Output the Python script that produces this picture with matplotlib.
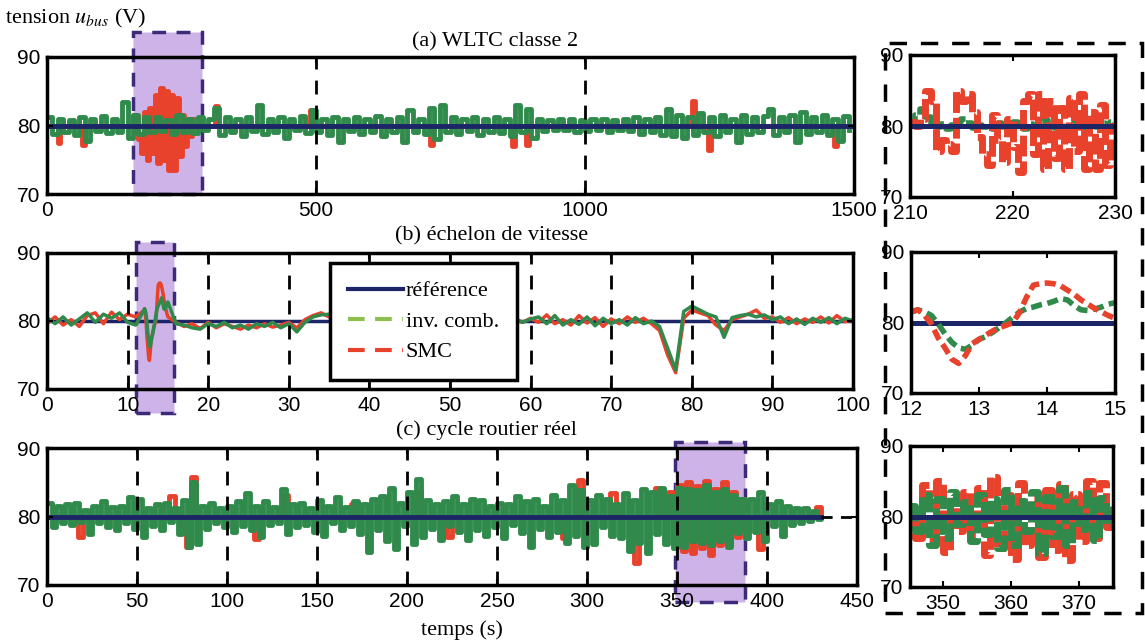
import numpy as np
import matplotlib.pyplot as plt
from matplotlib.lines import Line2D
from matplotlib.patches import Rectangle

plt.rcParams['font.family'] = ['Liberation Sans', 'DejaVu Sans']
plt.rcParams['mathtext.fontset'] = 'stix'
SERIF = ['Liberation Serif', 'DejaVu Serif']

NAVY = '#1c2566'
GREEN = '#2f8a4c'
GREEN_LEG = '#8dbf4c'
RED = '#e8412c'
LAVENDER = '#cdb3e8'
PURPLE = '#3d2b7a'

V_REF = 80

# ---------------- (a) WLTC classe 2, one value every 10 s ----------------
t_a = np.arange(0, 1500, 10)
green_a = [
    81.2, 78.8, 81.0, 79.0, 80.8, 78.6, 81.2, 77.8, 81.0, 79.2,
    81.4, 78.9, 81.0, 79.0, 83.5, 78.2, 81.5, 78.8, 81.2, 79.0,
    81.3, 79.2, 80.8, 78.8, 81.5, 79.0, 81.0, 78.9, 81.2, 79.4,
    81.0, 82.6, 78.6, 81.2, 79.0, 81.0, 78.4, 81.3, 79.2, 83.0,
    78.8, 81.0, 79.1, 81.2, 78.2, 81.0, 79.3, 81.4, 78.9, 82.2,
    79.0, 81.0, 78.6, 81.2, 77.6, 81.0, 79.2, 81.3, 78.8, 81.0,
    79.0, 81.4, 78.5, 81.0, 79.1, 81.2, 77.6, 82.2, 79.0, 81.0,
    78.7, 82.6, 78.0, 83.0, 79.0, 81.2, 78.8, 81.0, 79.2, 81.3,
    78.6, 81.0, 79.0, 81.2, 78.9, 81.0, 78.4, 83.0, 79.0, 82.4,
    78.2, 81.0, 79.2, 80.8, 79.4, 80.9, 79.3, 81.0, 79.0, 80.8,
    79.2, 80.9, 79.3, 81.0, 79.1, 80.8, 79.4, 81.0, 79.2, 81.2,
    78.8, 81.0, 79.0, 81.3, 78.6, 82.4, 78.4, 81.5, 78.2, 81.2,
    78.6, 81.8, 79.0, 81.2, 78.4, 81.6, 79.1, 81.0, 77.6, 81.5,
    78.8, 81.2, 79.0, 81.4, 82.4, 78.6, 81.2, 79.0, 81.5, 77.6,
    82.0, 78.8, 81.2, 79.0, 81.5, 78.6, 81.0, 77.8, 81.4, 79.4,
]
red_a_t = [0, 20, 25, 65, 70,
           160, 165, 170, 175, 180, 185, 190, 195, 200, 205, 210, 215, 220,
           225, 230, 235, 240, 245, 250, 255, 260, 265, 270, 275, 280, 285,
           312, 318, 488, 494, 712, 718, 864, 870, 890, 896,
           1198, 1204, 1228, 1234, 1462, 1468, 1495]
red_a = [80, 77.4, 80, 77.2, 80,
         81.5, 79.0, 78.0, 76.0, 82.0, 75.0, 82.5, 76.0, 84.5, 74.5, 85.5, 75.0, 85.0,
         73.5, 84.5, 73.5, 84.0, 75.5, 81.5, 77.0, 81.0, 78.5, 81.0, 79.5, 80.5, 80,
         82.8, 80, 82.2, 80, 77.2, 80, 77.0, 80, 77.2, 80,
         83.6, 80, 76.4, 80, 77.0, 80, 80]
ref_a_t = [0, 1495]

# zoom of (a): 210 - 230 s, every 0.5 s
t_az = np.arange(210, 230.01, 0.5)
green_az = [80.4, 81.6, 82.4, 81.2, 80.2, 79.8, 80.3, 79.6, 80.2, 80.6,
            81.0, 80.4, 79.7, 80.2, 79.8, 80.3, 79.6, 80.4, 79.9, 80.2,
            80.6, 80.0, 79.6, 80.3, 79.8, 80.4, 80.9, 80.2, 79.7, 80.3,
            79.6, 80.2, 80.8, 80.1, 79.7, 80.3, 79.8, 80.4, 80.0, 80.6, 80.2]
red_az = [80.5, 80.0, 81.0, 85.0, 83.5, 76.5, 78.0, 77.5, 76.5, 85.0,
          83.5, 84.5, 82.0, 78.5, 76.0, 74.5, 81.5, 78.0, 75.0, 81.0,
          77.0, 73.5, 83.5, 84.5, 76.0, 84.5, 74.0, 83.5, 75.5, 82.5,
          74.0, 84.0, 76.5, 84.5, 74.0, 82.0, 74.0, 83.0, 74.5, 80.0, 80.0]

# ---------------- (b) échelon de vitesse, one value every 1 s ----------------
t_b = np.arange(0, 101)
green_b = [
    80.5, 79.6, 80.6, 79.4, 80.3, 81.2, 79.8, 81.0, 80.4, 81.2,
    79.8, 79.4, 80.6, 78.0, 82.0, 81.5, 79.6, 79.4, 79.0, 78.8,
    79.6, 79.2, 79.8, 79.0, 79.4, 78.8, 79.6, 79.2, 79.8, 79.0,
    79.6, 78.4, 79.8, 80.6, 80.9, 81.0, 80.4, 79.6, 80.5, 79.7,
    80.3, 79.8, 80.2, 79.6, 80.4, 79.8, 80.5, 79.7, 80.2, 79.9,
    80.4, 79.6, 80.3, 79.8, 80.5, 79.7, 80.2, 79.6, 80.4, 79.8,
    80.3, 80.6, 79.6, 80.8, 79.4, 80.2, 79.5, 80.6, 79.3, 80.4,
    79.6, 80.2, 79.4, 80.5, 79.6, 80.0, 79.2, 76.0, 72.8, 81.4,
    82.2, 81.6, 81.0, 80.6, 77.6, 80.5, 80.8, 81.0, 80.6, 80.9,
    80.2, 80.6, 79.6, 80.3, 79.5, 80.4, 79.8, 80.5, 79.6, 80.4,
    80.0,
]
red_b = [
    79.6, 80.6, 79.4, 80.2, 79.2, 80.8, 81.2, 79.6, 81.3, 80.2,
    81.0, 80.6, 81.5, 74.2, 85.5, 80.6, 79.8, 79.2, 79.6, 78.9,
    79.8, 79.0, 79.6, 79.2, 78.8, 79.4, 79.0, 79.6, 79.1, 79.4,
    79.8, 79.0, 80.2, 80.8, 81.2, 80.6, 80.2, 79.8, 80.4, 79.6,
    80.2, 79.8, 80.4, 79.7, 80.3, 79.6, 80.2, 79.8, 80.5, 79.7,
    80.3, 79.9, 80.2, 79.6, 80.4, 79.8, 80.3, 79.7, 80.2, 79.8,
    80.4, 79.8, 80.9, 79.6, 80.2, 79.4, 80.8, 79.7, 80.5, 79.2,
    80.3, 79.6, 80.6, 79.8, 80.4, 79.6, 78.6, 75.0, 72.4, 80.4,
    81.6, 81.2, 80.8, 79.4, 78.6, 80.2, 80.6, 81.0, 81.6, 80.4,
    80.6, 79.8, 80.5, 79.6, 80.3, 79.8, 80.6, 79.7, 80.8, 79.9,
    80.2,
]
# zoom of (b): 12 - 15 s, every 0.1 s
t_bz = np.linspace(12, 15, 31)
green_bz = [81.5, 81.8, 81.5, 81.0, 79.8, 78.4, 77.2, 76.4, 76.2, 76.8,
            77.6, 78.0, 78.6, 79.3, 80.0, 80.8, 81.5, 82.0, 82.2, 82.5,
            82.7, 83.0, 83.4, 83.2, 82.4, 81.8, 81.7, 81.9, 82.2, 82.6, 82.8]
red_bz = [81.5, 81.8, 81.0, 79.8, 77.8, 76.4, 74.8, 74.2, 75.3, 77.0,
          77.6, 78.2, 78.8, 79.3, 79.6, 80.0, 81.5, 83.6, 85.3, 85.5,
          85.6, 85.5, 85.2, 84.6, 84.0, 83.2, 82.6, 82.0, 81.5, 81.0, 80.6]

# ---------------- (c) cycle routier réel, one value every 2.5 s ----------------
t_c = np.arange(0, 430.01, 2.5)
green_c = [
    82.0, 78.5, 81.5, 79.0, 81.8, 78.8, 82.0, 79.2, 81.0, 77.5, 81.6, 79.0,
    82.2, 78.4, 81.4, 78.0, 81.5, 79.0, 82.8, 78.2, 82.6, 77.0, 81.2, 78.6,
    81.8, 78.0, 82.0, 79.2, 81.2, 77.5, 82.4, 75.6, 85.0, 76.0, 81.5, 78.2,
    82.0, 79.0, 81.2, 78.4, 81.6, 77.8, 82.2, 78.6, 83.5, 78.0, 81.6, 77.0,
    82.2, 78.8, 81.4, 79.0, 84.0, 77.5, 81.8, 78.4, 82.0, 78.8, 81.2, 77.8,
    82.4, 77.2, 81.6, 79.0, 82.8, 78.0, 81.4, 78.6, 82.2, 77.4, 81.8, 74.8,
    82.6, 78.0, 83.0, 76.4, 84.2, 75.2, 82.0, 78.6, 83.6, 76.0, 85.5, 77.0,
    82.4, 78.2, 81.8, 76.6, 82.2, 78.6, 83.0, 77.8, 81.8, 76.6, 82.6, 78.0,
    82.4, 77.2, 81.6, 78.4, 82.0, 76.8, 81.8, 78.8, 83.0, 77.6, 82.2, 75.6,
    82.6, 78.2, 81.6, 77.0, 83.2, 77.8, 82.4, 76.2, 84.6, 77.2, 83.8, 75.6,
    82.4, 76.0, 83.2, 78.4, 82.6, 77.2, 81.8, 76.8, 83.4, 75.0, 82.4, 76.2,
    84.0, 74.6, 83.6, 77.4, 84.2, 76.0, 83.0, 75.4, 84.2, 75.6, 84.0, 76.4,
    83.8, 76.2, 84.6, 75.8, 83.6, 76.4, 84.0, 75.6, 83.2, 77.6, 82.6, 76.8,
    82.6, 77.8, 83.6, 76.4, 81.8, 78.6, 82.2, 77.2, 81.6, 78.8, 81.2, 79.0,
    81.2, 79.4, 80.8, 79.6, 80.0,
]
red_c_t = [0, 17, 20, 68, 71, 77, 80, 83, 115, 118, 131, 134, 169, 172,
           205, 208, 222, 225, 286, 289, 295, 298, 313, 316, 326, 329, 338, 341,
           345, 347.5, 350, 352.5, 355, 357.5, 360, 362.5, 365, 367.5, 370,
           372.5, 375, 377.5, 380, 382.5, 385, 387.5, 390, 395, 398, 427, 430]
red_c = [80, 77.0, 80, 83.0, 80, 75.5, 85.7, 80, 76.7, 80, 83.2, 80, 81.8, 80,
         83.6, 80, 77.0, 80, 76.8, 80, 85.4, 80, 83.4, 80, 73.2, 80, 84.2, 80,
         83.6, 76.0, 84.6, 75.0, 85.0, 74.6, 84.4, 75.4, 85.2, 74.4, 84.0,
         75.8, 85.0, 76.0, 83.6, 77.0, 82.6, 78.0, 80, 75.2, 80, 81.4, 80]
ref_c_t = [0, 430]
ref_c_tail = [430, 450]

# zoom of (c): 345 - 375 s, every 1 s
t_cz = np.arange(345, 376)
green_cz = [81.5, 78.0, 83.0, 76.0, 82.5, 77.0, 83.5, 79.0, 82.0, 76.5,
            83.0, 77.5, 82.5, 75.5, 83.8, 76.0, 82.2, 78.0, 83.5, 74.8,
            82.8, 77.2, 84.0, 76.0, 82.0, 78.2, 83.4, 76.6, 82.6, 79.0, 81.8]
red_cz = [80.5, 77.0, 84.5, 76.5, 85.0, 75.0, 81.5, 78.0, 83.5, 77.5,
          84.0, 74.5, 85.6, 75.5, 83.0, 74.0, 84.8, 76.0, 82.5, 74.2,
          83.8, 75.2, 84.6, 73.8, 83.2, 76.5, 85.0, 77.0, 84.8, 78.5, 81.0]

W, H = 1145, 644
fig = plt.figure(figsize=(W / 100, H / 100), dpi=100)


def px_axes(x0, y0, x1, y1):
    return fig.add_axes([x0 / W, 1 - y1 / H, (x1 - x0) / W, (y1 - y0) / H])


def style(ax, xlim, xticks, grid=True):
    ax.set_xlim(xlim)
    ax.set_ylim(70, 90)
    ax.set_yticks([70, 80, 90])
    ax.set_xticks(xticks)
    ax.tick_params(direction='in', length=4, width=1.5, labelsize=15,
                   top=True, right=True, pad=5)
    for s in ax.spines.values():
        s.set_linewidth(2.5)
    if grid:
        ax.grid(True, axis='x', color='k', ls=(0, (5, 4)), lw=2)
        ax.set_axisbelow(False)


def highlight(ax, x0, x1, y0, y1):
    ax.add_patch(Rectangle((x0, y0), x1 - x0, y1 - y0, facecolor=LAVENDER,
                           edgecolor=PURPLE, ls=(0, (4, 3)), lw=2.5,
                           clip_on=False, zorder=0.8))


# ---- (a) ----
ax_a = px_axes(47, 57, 854, 194)
highlight(ax_a, 160, 288, 70, 93.6)
ax_a.plot(red_a_t, red_a, color=RED, lw=3.5, drawstyle='steps-post', zorder=2)
ax_a.plot(t_a, green_a, color=GREEN, lw=3.5, drawstyle='steps-post', zorder=2.1)
ax_a.plot(ref_a_t, [V_REF] * 2, color=NAVY, lw=3.5, zorder=2.2)
style(ax_a, (0, 1500), [0, 500, 1000, 1500])

ax_az = px_axes(910, 55, 1115, 197)
ax_az.plot(t_az, green_az, color=GREEN, lw=4, ls=(0, (2.5, 0.8)), drawstyle='steps-post')
ax_az.plot(t_az, red_az, color=RED, lw=5, ls=(0, (3, 0.7)), drawstyle='steps-post')
ax_az.plot([210, 230], [V_REF] * 2, color=NAVY, lw=3.6)
style(ax_az, (210, 230), [210, 220, 230], grid=False)

# ---- (b) ----
keep = (t_b < 12) | (t_b > 15)
tb_all = np.concatenate([t_b[keep], t_bz])
order = np.argsort(tb_all)
gb_all = np.concatenate([np.array(green_b)[keep], green_bz])[order]
rb_all = np.concatenate([np.array(red_b)[keep], red_bz])[order]
tb_all = tb_all[order]

ax_b = px_axes(47, 253, 853, 389)
highlight(ax_b, 11.0, 15.75, 66.5, 91.6)
ax_b.plot([0, 100], [V_REF] * 2, color=NAVY, lw=2.5, zorder=1.9)
ax_b.plot(tb_all, rb_all, color=RED, lw=2.5, zorder=2)
ax_b.plot(tb_all, gb_all, color=GREEN, lw=2.5, zorder=2.1)
style(ax_b, (0, 100), np.arange(0, 101, 10))

handles = [Line2D([], [], color=NAVY, lw=3),
           Line2D([], [], color=GREEN_LEG, lw=3, ls=(0, (4, 2.5))),
           Line2D([], [], color=RED, lw=3, ls=(0, (4, 2.5)))]
leg = ax_b.legend(handles, ['référence', 'inv. comb.', 'SMC'], loc='upper left',
                  bbox_to_anchor=(330 / W, 1 - 263 / H), bbox_transform=fig.transFigure,
                  prop={'family': SERIF, 'size': 16}, frameon=True, fancybox=False,
                  edgecolor='k', framealpha=1, handlelength=2.5, handletextpad=0.1,
                  borderpad=0.8, labelspacing=0.45, borderaxespad=0)
leg.get_frame().set_linewidth(2.5)
leg.set_zorder(5)

ax_bz = px_axes(911, 252, 1115, 393)
ax_bz.plot([12, 15], [V_REF] * 2, color=NAVY, lw=3.6)
ax_bz.plot(t_bz, green_bz, color=GREEN, lw=4, ls=(0, (2, 1)))
ax_bz.plot(t_bz, red_bz, color=RED, lw=4, ls=(0, (2, 1)))
style(ax_bz, (12, 15), [12, 13, 14, 15], grid=False)

# ---- (c) ----
ax_c = px_axes(47, 448, 857, 585)
highlight(ax_c, 349, 388, 67.5, 90.9)
ax_c.plot(red_c_t, red_c, color=RED, lw=3.5, drawstyle='steps-post', zorder=2)
ax_c.plot(t_c, green_c, color=GREEN, lw=3.5, drawstyle='steps-post', zorder=2.1)
ax_c.plot(ref_c_t, [V_REF] * 2, color=NAVY, lw=3.5, zorder=2.2)
ax_c.plot(ref_c_tail, [V_REF] * 2, color='k', lw=2, ls=(0, (4, 3)), zorder=2.2)
style(ax_c, (0, 450), np.arange(0, 451, 50))

ax_cz = px_axes(910, 446, 1113, 587)
ax_cz.plot(t_cz, red_cz, color=RED, lw=5, ls=(0, (3, 0.7)), drawstyle='steps-post')
ax_cz.plot(t_cz, green_cz, color=GREEN, lw=5, ls=(0, (3, 0.7)), drawstyle='steps-post')
ax_cz.plot([345, 375], [V_REF] * 2, color=NAVY, lw=3.6)
style(ax_cz, (345.2, 375), [350, 360, 370], grid=False)

# ---- texts and frame ----
fig.add_artist(Rectangle((885 / W, 1 - 613 / H), (1142 - 885) / W, (613 - 43) / H,
                         transform=fig.transFigure, fill=False, edgecolor='k',
                         lw=2.5, ls=(0, (5, 4))))
fig.text(5 / W, 1 - 18 / H, 'tension $u_{bus}$ (V)', family=SERIF, size=16, va='center')
fig.text(495 / W, 1 - 42 / H, '(a) WLTC classe 2', family=SERIF, size=16, ha='center', va='center')
fig.text(492 / W, 1 - 236 / H, '(b) échelon de vitesse', family=SERIF, size=16, ha='center', va='center')
fig.text(487 / W, 1 - 430 / H, '(c) cycle routier réel', family=SERIF, size=16, ha='center', va='center')
fig.text(462 / W, 1 - 630 / H, 'temps (s)', family=SERIF, size=16, ha='center', va='center')

fig.savefig('out.png', dpi=100, facecolor='white')
